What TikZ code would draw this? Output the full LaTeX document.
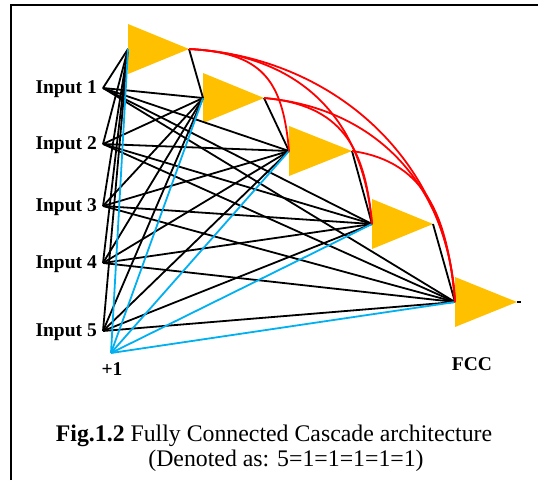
\documentclass[tikz,border=0pt]{standalone}
\usepackage{fontspec}
\setmainfont{Liberation Serif}
\usetikzlibrary{calc}
\definecolor{cellfill}{RGB}{255,192,0}
\definecolor{biasblue}{RGB}{0,176,240}
\definecolor{skipred}{RGB}{255,0,0}
\begin{document}
\begin{tikzpicture}[x=1pt,y=-1pt,
  neuron/.style={fill=cellfill,draw=none},
  wire/.style={black,line width=1.8pt},
  biaswire/.style={biasblue,line width=1.8pt},
  skip/.style={skipred,line width=1.8pt},
  inlabel/.style={anchor=east,inner sep=0pt,font=\fontsize{19.5}{19.5}\selectfont\bfseries},
  frameline/.style={black,line width=2.5pt}]
\useasboundingbox (0,0) rectangle (538,480);
% frame (left and top edges)
\draw[frameline] (11,480) -- (11,5) -- (538,5);

% cascade units: input point and output tip of each triangle
\coordinate (n1in) at (128,49);  \coordinate (n1out) at (189,49);
\coordinate (n2in) at (203,98);  \coordinate (n2out) at (264,98);
\coordinate (n3in) at (289,151); \coordinate (n3out) at (352,151);
\coordinate (n4in) at (372,224); \coordinate (n4out) at (433,224);
\coordinate (n5in) at (455,302); \coordinate (n5out) at (517,302);
\coordinate (yend) at (521,302);

\foreach \k in {1,...,5}{
  \fill[neuron] ($(n\k in)+(0,-25)$) -- (n\k out) -- ($(n\k in)+(0,25)$) -- cycle;
}

% input points
\coordinate (x1) at (103,88);
\coordinate (x2) at (103,144);
\coordinate (x3) at (103,206);
\coordinate (x4) at (103,263);
\coordinate (x5) at (103,331);
\coordinate (bias) at (111,353);

\node[inlabel] (l1) at (97,89) {Input 1};
\node[inlabel] (l2) at (97,145) {Input 2};
\node[inlabel] (l3) at (97,207) {Input 3};
\node[inlabel] (l4) at (97,264) {Input 4};
\node[inlabel] (l5) at (97,332) {Input 5};
\node[inlabel,anchor=center] (lb) at (112,369) {+1};
\node[inlabel,anchor=center] (lf) at (472,364) {FCC};

% every input feeds every unit
\foreach \i in {1,...,5}{
  \foreach \k in {1,...,5}{
    \draw[wire] (x\i) -- (n\k in);
  }
}
% bias feeds every unit
\foreach \k in {1,...,5}{
  \draw[biaswire] (bias) -- (n\k in);
}
% neighbouring units
\draw[wire] (n1out) -- (n2in);
\draw[wire] (n2out) -- (n3in);
\draw[wire] (n3out) -- (n4in);
\draw[wire] (n4out) -- (n5in);
\draw[wire] (n5out) -- (yend);

% skip connections over the cascade
\draw[skip] (n1out) to[out=-3,in=95,looseness=1.3] (n3in);
\draw[skip] (n1out) to[out=-3,in=95,looseness=1.1] (n4in);
\draw[skip] (n1out) to[out=-3,in=93,looseness=1.0] (n5in);
\draw[skip] (n2out) to[out=-5,in=95,looseness=1.2] (n4in);
\draw[skip] (n2out) to[out=-5,in=93,looseness=1.05] (n5in);
\draw[skip] (n3out) to[out=-8,in=95,looseness=1.1] (n5in);

% caption
\node[font=\fontsize{23.8}{23.8}\selectfont] (cap1) at (274,436) {\textbf{Fig.1.2} Fully Connected Cascade architecture};
\node[font=\fontsize{23.8}{23.8}\selectfont] (cap2) at (286,461) {(Denoted as: 5=1=1=1=1=1)};
\end{tikzpicture}
\end{document}
